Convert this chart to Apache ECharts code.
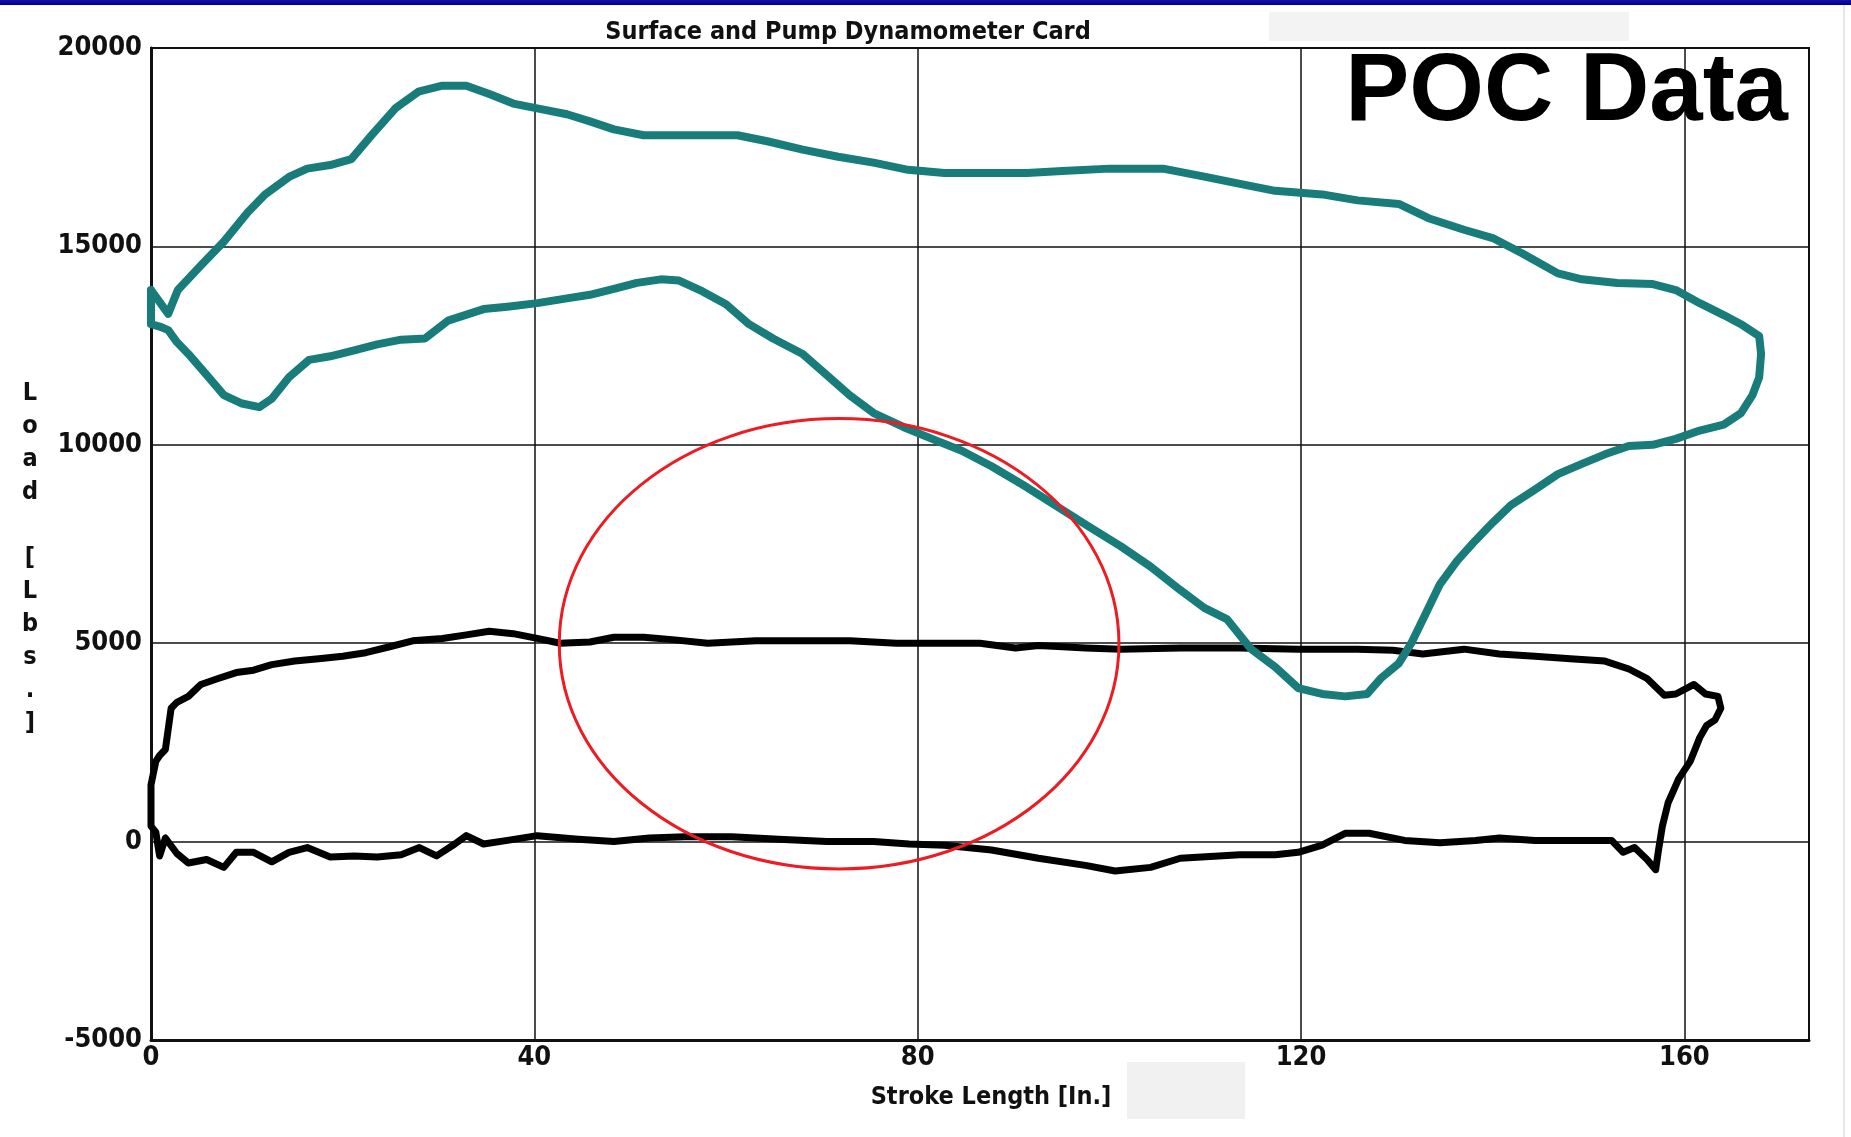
<!DOCTYPE html>
<html>
<head>
<meta charset="utf-8">
<title>Surface and Pump Dynamometer Card</title>
<script src="https://cdn.jsdelivr.net/npm/echarts@6/dist/echarts.min.js"></script>
<style>
  html, body { margin: 0; padding: 0; background: #ffffff; }
  #chart { width: 1851px; height: 1137px; }
</style>
</head>
<body>
<div id="chart"></div>
<script>
// Axis ticks
const strokeTicks = [0, 40, 80, 120, 160];
const loadTicks = [-5000, 0, 5000, 10000, 15000, 20000];

// Surface card loop: stroke position [in] and polished-rod load [lbs]
const surfaceStroke = [0, 1.8, 2.8, 5.2, 7.6, 10.1, 11.9, 14.4, 16.3, 18.7, 20.9, 23.0, 25.5, 27.9, 30.4, 32.9,
  35.3, 37.8, 40.3, 43.4, 45.8, 48.3, 51.4, 55.7, 61.2, 64.3, 68.0, 71.7, 75.4, 79.0, 82.8, 91.4, 95.1,
  100.0, 105.6, 109.9, 114.8, 117.3, 122.2, 125.9, 130.2, 133.3, 137.0, 140.0, 143.1, 146.8, 149.3, 153.0,
  156.7, 159.1, 161.6, 164.1, 165.9, 167.8, 168.0, 167.8, 167.1, 165.9, 164.1, 161.6, 159.1, 156.7, 154.2,
  151.7, 149.3, 146.8, 144.4, 141.9, 140.0, 138.2, 136.3, 134.5, 133.0, 131.5, 130.2, 128.3, 126.9, 124.6,
  122.2, 119.7, 117.3, 114.8, 112.3, 109.9, 107.4, 104.3, 101.2, 98.2, 95.1, 91.4, 87.7, 84.6, 81.5, 78.5,
  75.4, 72.9, 70.5, 68.0, 64.9, 62.4, 60.0, 57.5, 55.1, 53.2, 50.7, 48.3, 45.8, 43.4, 40.3, 37.2, 34.7,
  31.0, 28.6, 26.1, 23.6, 21.2, 18.7, 16.5, 14.4, 12.6, 11.3, 9.5, 7.6, 5.8, 3.9, 2.7, 1.8, 0.9, 0, 0, 0];
const surfaceLoad = [13900, 13300, 13900, 14520, 15120, 15860, 16310, 16750, 16960, 17050, 17200, 17800, 18480,
  18900, 19050, 19050, 18840, 18600, 18480, 18330, 18150, 17950, 17800, 17800, 17800, 17650, 17440, 17260,
  17110, 16930, 16850, 16850, 16900, 16960, 16960, 16760, 16520, 16400, 16310, 16160, 16070, 15710, 15420,
  15210, 14820, 14320, 14170, 14080, 14050, 13900, 13570, 13270, 13040, 12740, 12290, 11700, 11250, 10800,
  10510, 10360, 10150, 10000, 9970, 9760, 9520, 9260, 8870, 8480, 8040, 7590, 7080, 6490, 5740, 5000, 4490,
  4110, 3720, 3660, 3720, 3870, 4400, 4850, 5600, 5890, 6340, 6930, 7440, 7890, 8360, 8930, 9460, 9850,
  10150, 10450, 10800, 11250, 11760, 12290, 12680, 13040, 13540, 13870, 14140, 14170, 14080, 13930, 13780,
  13690, 13570, 13480, 13420, 13130, 12680, 12650, 12530, 12380, 12230, 12140, 11700, 11160, 10950, 11040,
  11250, 11760, 12290, 12590, 12890, 12980, 13040, 13500, 13900];

// Pump card loop: plunger position [in] and plunger load [lbs]
const pumpStroke = [0, 0, 0.5, 0.9, 1.5, 2.1, 2.7, 3.9, 5.2, 7.0, 8.9, 10.7, 12.6, 15.0, 17.5, 20.0, 22.4,
  24.9, 27.3, 30.4, 32.9, 35.3, 37.8, 40.3, 42.7, 45.8, 48.3, 51.4, 54.4, 58.1, 63.1, 68.0, 72.9, 77.8,
  82.8, 86.5, 90.2, 92.6, 95.1, 97.5, 101.2, 107.4, 113.6, 119.7, 125.9, 129.6, 132.7, 137.0, 140.7, 144.4,
  148.1, 151.7, 154.2, 156.1, 157.9, 159.1, 161.0, 162.2, 163.5, 163.8, 163.2, 162.3, 161.6, 160.6, 159.4,
  158.3, 157.7, 157.3, 157.0, 156.1, 154.8, 153.6, 152.4, 149.3, 144.4, 140.7, 138.2, 134.5, 130.8, 127.1,
  124.6, 122.2, 119.7, 117.3, 113.6, 107.4, 104.3, 100.6, 97.5, 92.6, 87.7, 82.8, 79.1, 75.4, 70.5, 65.5,
  60.6, 55.7, 52.0, 48.3, 44.6, 40.3, 37.2, 34.7, 32.9, 31.7, 29.8, 28.0, 26.1, 23.6, 21.2, 18.7, 16.3,
  14.4, 12.6, 10.7, 8.9, 7.6, 5.8, 3.9, 2.7, 1.5, 0.9, 0.5, 0, 0];
const pumpLoad = [680, 1430, 2020, 2170, 2320, 3360, 3510, 3660, 3960, 4110, 4260, 4320, 4460, 4550, 4610,
  4670, 4760, 4910, 5060, 5120, 5210, 5300, 5240, 5120, 5000, 5030, 5150, 5150, 5090, 5000, 5060, 5060,
  5060, 5000, 5000, 5000, 4880, 4940, 4910, 4880, 4850, 4880, 4880, 4850, 4850, 4820, 4730, 4850, 4730,
  4670, 4610, 4550, 4350, 4110, 3690, 3720, 3960, 3720, 3660, 3360, 3070, 2920, 2620, 2020, 1580, 980, 390,
  -210, -710, -450, -150, -270, 30, 30, 30, 90, 30, -30, 30, 210, 210, -90, -270, -330, -330, -420, -650,
  -740, -600, -420, -210, -90, -60, 0, 0, 60, 120, 120, 90, 0, 60, 150, 30, -60, 150, -60, -360, -150,
  -330, -390, -360, -390, -150, -270, -510, -270, -270, -650, -450, -540, -300, 90, -360, 240, 390, 680];

// Highlighted region: ellipse bounds in stroke / load units
const focusStroke = [42.6, 101.0];
const focusLoad = [-690, 10660];

const FONT = '"Liberation Sans Narrow", "DejaVu Sans Condensed", "Arial Narrow", sans-serif';

const zip = (xs, ys) => xs.map((x, i) => [x, ys[i]]);

const chart = echarts.init(document.getElementById('chart'), null, { renderer: 'canvas' });

chart.setOption({
  backgroundColor: '#ffffff',
  animation: false,
  title: {
    text: 'Surface and Pump Dynamometer Card',
    left: 843,
    top: 15,
    textAlign: 'center',
    textStyle: { fontFamily: FONT, fontWeight: 'bold', fontSize: 25, color: '#111' }
  },
  grid: {
    left: 151, right: 42, top: 48, bottom: 97,
    show: true, borderColor: '#111', borderWidth: 2, backgroundColor: '#ffffff'
  },
  xAxis: {
    type: 'value',
    min: strokeTicks[0],
    max: 173,
    interval: strokeTicks[1] - strokeTicks[0],
    axisLine: { show: true, onZero: false, lineStyle: { color: '#111', width: 3 } },
    axisTick: { show: false },
    splitLine: { show: true, lineStyle: { color: '#111', width: 1.5 } },
    axisLabel: {
      color: '#111', fontFamily: FONT, fontWeight: 'bold', fontSize: 27, margin: 4,
      showMaxLabel: false,
      formatter: v => (strokeTicks.includes(v) ? String(v) : '')
    }
  },
  yAxis: {
    type: 'value',
    min: loadTicks[0],
    max: loadTicks[loadTicks.length - 1],
    interval: loadTicks[1] - loadTicks[0],
    axisLine: { show: true, onZero: false, lineStyle: { color: '#111', width: 3 } },
    axisTick: { show: false },
    splitLine: { show: true, lineStyle: { color: '#111', width: 1.5 } },
    axisLabel: {
      color: '#111', fontFamily: FONT, fontWeight: 'bold', fontSize: 27, margin: 9,
      formatter: v => String(v)
    }
  },
  series: [
    {
      name: 'Pump Card',
      type: 'line',
      data: zip(pumpStroke, pumpLoad),
      showSymbol: false,
      lineStyle: { color: '#000000', width: 7, join: 'round', cap: 'round' },
      z: 3
    },
    {
      name: 'Surface Card',
      type: 'line',
      data: zip(surfaceStroke, surfaceLoad),
      showSymbol: false,
      lineStyle: { color: '#187c7a', width: 8, join: 'round', cap: 'round' },
      z: 4
    }
  ]
});

// Header band, labels and the highlight ellipse
const p0 = chart.convertToPixel({ gridIndex: 0 }, [focusStroke[0], focusLoad[1]]);
const p1 = chart.convertToPixel({ gridIndex: 0 }, [focusStroke[1], focusLoad[0]]);

chart.setOption({
  graphic: [
    {
      type: 'rect', shape: { x: 0, y: 0, width: 1851, height: 5 }, z: 10,
      style: { fill: new echarts.graphic.LinearGradient(0, 0, 0, 1, [
        { offset: 0, color: '#1010b8' }, { offset: 1, color: '#00007a' }]) }
    },
    { type: 'rect', shape: { x: 1269, y: 12, width: 360, height: 29 }, z: 0, style: { fill: '#f3f3f3' } },
    { type: 'rect', shape: { x: 1127, y: 1062, width: 118, height: 57 }, z: 0, style: { fill: '#f1f1f1' } },
    { type: 'rect', shape: { x: 1843, y: 5, width: 2, height: 1132 }, z: 0, style: { fill: '#e6e6e6' } },
    {
      type: 'text', x: 30, y: 377, z: 10,
      style: {
        text: ['L', 'o', 'a', 'd', ' ', '[', 'L', 'b', 's', '.', ']'].join('\n'),
        font: 'bold 25px ' + FONT, fill: '#111', textAlign: 'center', lineHeight: 33
      }
    },
    {
      type: 'text', x: 991, y: 1097, z: 10,
      style: {
        text: 'Stroke Length [In.]', font: 'bold 25px ' + FONT, fill: '#111',
        textAlign: 'center', textVerticalAlign: 'middle'
      }
    },
    {
      type: 'text', x: 1788, y: 94, z: 10,
      style: {
        text: 'POC Data', font: 'bold 96px "Liberation Sans", Arial, sans-serif', fill: '#000',
        textAlign: 'right', textVerticalAlign: 'middle'
      }
    },
    {
      type: 'ellipse', z: 20,
      shape: { cx: (p0[0] + p1[0]) / 2, cy: (p0[1] + p1[1]) / 2, rx: (p1[0] - p0[0]) / 2, ry: (p1[1] - p0[1]) / 2 },
      style: { fill: null, stroke: '#ec1c24', lineWidth: 3 }
    }
  ]
});
</script>
</body>
</html>
